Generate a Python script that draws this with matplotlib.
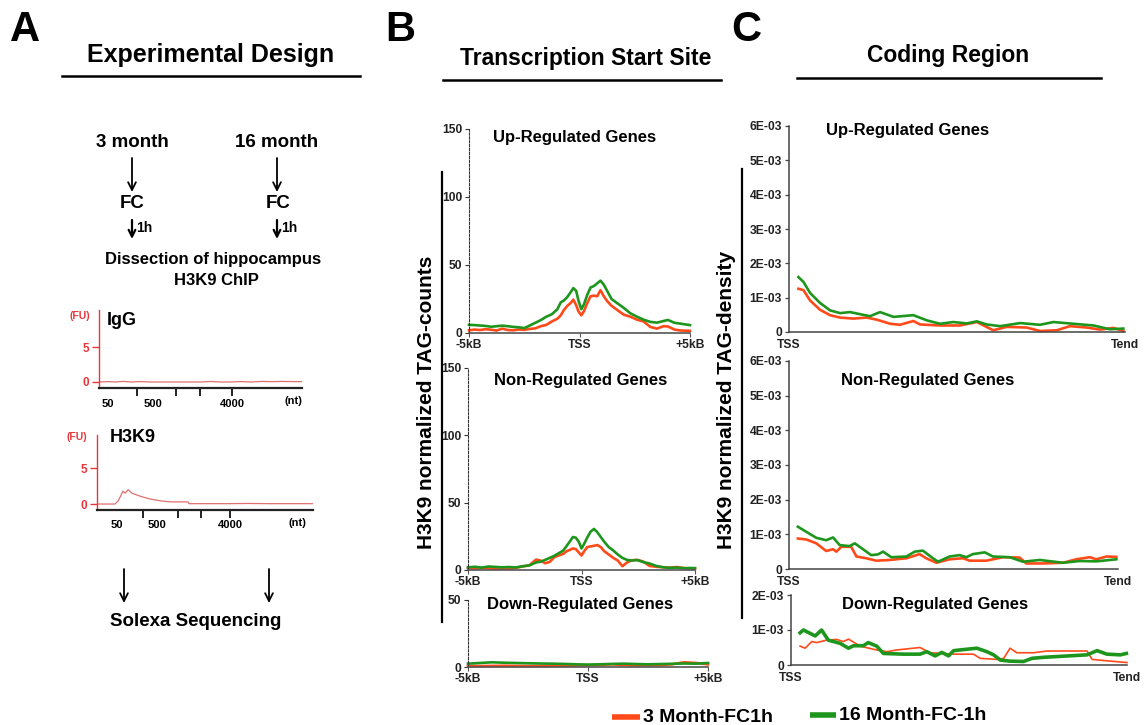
import numpy as np
import matplotlib
matplotlib.use('Agg')
import matplotlib.pyplot as plt

plt.rcParams['font.family'] = ['Liberation Sans', 'DejaVu Sans']
plt.rcParams['font.weight'] = 'bold'

# ---------------- data ----------------
# Panel A electropherograms (relative migration 0-100, FU)
igg_x = [0, 5, 8, 12, 16, 20, 25, 30, 40, 50, 55, 60, 65, 70, 75, 80, 85, 90, 95, 100]
igg_fu = [0.0, 0.05, 0.0, 0.08, 0.0, 0.06, 0.0, 0.0, 0.0, 0.0, 0.07, 0.0, 0.0, 0.06, 0.0, 0.08, 0.05, 0.08, 0.06, 0.05]
h3k9_x = [0, 8.3, 9.7, 11.1, 12.0, 13.0, 14.4, 16.2, 19.9, 24.5, 29.2, 33.8, 42.1, 42.6, 60, 70, 80, 100]
h3k9_fu = [0.0, 0.0, 0.4, 1.2, 1.8, 1.5, 2.0, 1.5, 1.1, 0.7, 0.45, 0.3, 0.3, 0.05, 0.05, 0.08, 0.05, 0.05]
nt_labels = ['50', '500', '4000']

# Panel B: TSS profiles (kb from TSS, TAG-counts)
up_tss_x = [-5.0, -4.75, -4.5, -4.25, -4.0, -3.75, -3.5, -3.25, -3.0, -2.75, -2.5, -2.25, -2.0, -1.75,
            -1.5, -1.25, -1.0, -0.85, -0.7, -0.55, -0.4, -0.28, -0.15, -0.05, 0.08, 0.2, 0.35, 0.5,
            0.65, 0.8, 0.95, 1.1, 1.25, 1.45, 1.7, 2.0, 2.3, 2.6, 2.9, 3.2, 3.5, 3.8, 4.0, 4.3, 4.6, 5.0]
up_tss_3m = [2.0, 2.5, 2.2, 2.8, 2.4, 1.8, 3.2, 2.2, 2.0, 2.6, 2.3, 3.0, 3.4, 5.0,
             6.0, 8.5, 10.5, 13.0, 17.0, 20.0, 22.0, 24.5, 20.5, 16.0, 13.0, 16.0, 22.0, 27.0,
             27.5, 27.0, 31.5, 27.0, 23.5, 20.0, 17.0, 13.5, 12.0, 9.8, 8.5, 4.5, 3.2, 5.0, 4.8, 2.5, 1.8, 1.6]
up_tss_16m = [6.0, 5.8, 5.5, 5.2, 4.6, 5.0, 5.4, 5.0, 4.5, 4.2, 3.6, 5.5, 7.5, 9.5,
              12.0, 13.8, 17.5, 22.5, 24.0, 26.5, 30.0, 33.0, 31.0, 24.0, 17.5, 21.0, 28.0, 33.5,
              34.5, 36.5, 38.5, 35.5, 31.0, 25.0, 22.0, 18.5, 14.5, 12.0, 9.8, 8.2, 7.6, 8.8, 9.6, 7.5, 6.8, 5.8]

non_tss_x = [-5.0, -4.7, -4.4, -4.1, -3.8, -3.5, -3.2, -2.9, -2.6, -2.3, -2.0, -1.8, -1.6, -1.4, -1.2,
             -1.0, -0.8, -0.65, -0.5, -0.38, -0.25, -0.12, 0.0, 0.12, 0.25, 0.4, 0.55, 0.7, 0.85, 1.0,
             1.2, 1.4, 1.6, 1.8, 2.0, 2.2, 2.45, 2.7, 3.0, 3.3, 3.6, 3.9, 4.2, 4.5, 4.8, 5.0]
non_tss_3m = [1.3, 1.0, 1.5, 1.2, 0.9, 1.1, 1.0, 1.6, 2.6, 3.5, 7.7, 7.0, 5.0, 6.0, 9.5,
              10.8, 12.0, 14.0, 15.0, 16.0, 15.5, 13.0, 10.8, 14.0, 17.0, 17.5, 18.0, 18.5, 17.0, 14.0,
              11.5, 9.0, 7.0, 2.8, 5.5, 7.2, 7.5, 6.4, 3.0, 2.4, 2.0, 1.8, 2.2, 1.5, 1.0, 1.0]
non_tss_16m = [2.0, 2.4, 1.8, 2.6, 2.3, 2.0, 2.2, 1.9, 2.8, 3.4, 5.6, 6.2, 7.5, 9.0, 10.5,
               12.5, 14.5, 18.0, 21.5, 24.5, 24.0, 21.0, 16.0, 19.5, 24.0, 28.5, 30.5, 28.0, 24.5, 21.0,
               17.0, 14.5, 11.5, 9.0, 7.5, 7.0, 7.4, 6.0, 4.8, 3.0, 2.0, 1.6, 1.8, 1.3, 1.5, 1.4]

down_tss_x = [-5.0, -4.5, -4.0, -3.5, -3.0, -2.5, -2.0, -1.5, -1.0, -0.5, 0.0, 0.5, 1.0, 1.5, 2.0,
              2.5, 3.0, 3.5, 4.0, 4.5, 5.0]
down_tss_3m = [0.8, 0.7, 0.8, 0.9, 0.8, 0.7, 0.8, 0.9, 1.0, 1.2, 1.4, 1.6, 2.0, 1.5, 1.2,
               1.3, 1.5, 2.0, 3.5, 3.0, 2.0]
down_tss_16m = [2.5, 3.0, 3.5, 3.2, 3.0, 2.8, 2.6, 2.5, 2.3, 2.0, 1.8, 2.0, 2.3, 2.5, 2.2,
                2.0, 2.2, 2.4, 2.6, 2.5, 3.0]

# Panel C: coding region profiles (% of gene body TSS->Tend, TAG-density in 1E-03 units)
up_cod_3m_x = [2.8, 4.3, 6.25, 9.2, 12.2, 15.2, 19.1, 23.1, 26.1, 30.1, 33.0, 37.0, 39.0, 44.9, 50.9,
               55.9, 60.8, 64.8, 70.7, 74.7, 79.7, 83.6, 88.6, 92.6, 96.5, 99.5]
up_cod_3m = [1.26, 1.22, 0.92, 0.65, 0.49, 0.42, 0.39, 0.42, 0.36, 0.24, 0.21, 0.32, 0.22, 0.19, 0.19,
             0.29, 0.05, 0.15, 0.13, 0.03, 0.05, 0.17, 0.13, 0.07, 0.12, 0.03]
up_cod_16m_x = [2.8, 4.3, 6.25, 9.2, 12.2, 15.2, 18.2, 21.1, 24.1, 27.1, 31.1, 37.0, 41.0, 44.9, 48.9,
                52.9, 55.9, 58.8, 62.8, 68.8, 74.7, 78.7, 84.6, 90.6, 95.5, 99.5]
up_cod_16m = [1.60, 1.46, 1.14, 0.85, 0.63, 0.55, 0.58, 0.52, 0.46, 0.58, 0.44, 0.49, 0.34, 0.24, 0.29,
              0.25, 0.31, 0.22, 0.17, 0.26, 0.21, 0.29, 0.24, 0.19, 0.08, 0.10]

non_cod_3m_x = [2.7, 5.3, 8.3, 11.3, 13.4, 14.4, 15.9, 18.9, 20.5, 23.5, 26.5, 30.6, 35.7, 39.7, 41.7,
                44.8, 48.8, 52.9, 54.9, 60.0, 65.0, 70.1, 72.1, 77.2, 83.3, 87.3, 91.4, 93.4, 96.5, 99.5]
non_cod_3m = [0.88, 0.85, 0.74, 0.52, 0.57, 0.50, 0.64, 0.64, 0.36, 0.31, 0.24, 0.26, 0.31, 0.43, 0.31,
              0.18, 0.28, 0.31, 0.24, 0.24, 0.34, 0.33, 0.16, 0.16, 0.18, 0.28, 0.34, 0.28, 0.36, 0.35]
non_cod_16m_x = [2.7, 5.3, 8.3, 11.3, 13.4, 15.4, 18.4, 20.0, 22.5, 25.0, 27.0, 28.6, 31.1, 35.7, 38.2,
                 40.7, 43.3, 45.3, 48.8, 51.9, 53.9, 55.9, 59.5, 62.0, 67.1, 71.1, 76.2, 83.3, 88.3, 93.4, 99.5]
non_cod_16m = [1.22, 1.07, 0.90, 0.83, 0.91, 0.69, 0.66, 0.74, 0.57, 0.40, 0.42, 0.50, 0.34, 0.36, 0.50,
               0.53, 0.34, 0.21, 0.36, 0.40, 0.34, 0.43, 0.48, 0.36, 0.34, 0.21, 0.26, 0.18, 0.23, 0.22, 0.28]

down_cod_3m_x = [2.7, 4.2, 6.2, 7.6, 10.6, 13.6, 15.6, 17.1, 20.6, 24.5, 28.5, 31.5, 38.4, 41.4, 48.4,
                 54.3, 56.3, 61.3, 63.3, 65.2, 67.2, 72.2, 76.2, 88.1, 89.6, 94.0, 100.0]
down_cod_3m = [0.54, 0.48, 0.67, 0.64, 0.71, 0.73, 0.67, 0.74, 0.54, 0.45, 0.38, 0.43, 0.50, 0.35, 0.31,
               0.31, 0.19, 0.16, 0.19, 0.48, 0.35, 0.35, 0.40, 0.40, 0.16, 0.12, 0.07]
down_cod_16m_x = [2.7, 3.7, 7.2, 9.1, 11.1, 14.6, 17.1, 18.6, 21.5, 23.0, 25.5, 27.5, 33.5, 38.4, 40.4,
                  42.9, 44.9, 46.9, 48.4, 52.3, 55.3, 58.3, 60.3, 62.3, 65.2, 69.2, 71.7, 75.2, 88.1,
                  91.1, 94.0, 98.0, 99.8]
down_cod_16m = [0.92, 1.00, 0.83, 1.00, 0.71, 0.62, 0.48, 0.55, 0.55, 0.64, 0.54, 0.33, 0.31, 0.31, 0.38,
                0.26, 0.36, 0.26, 0.41, 0.45, 0.48, 0.38, 0.29, 0.14, 0.11, 0.10, 0.19, 0.22, 0.29,
                0.41, 0.31, 0.29, 0.33]

series_labels = ['3 Month-FC1h', '16 Month-FC-1h']
tss_xticklabels = ['-5kB', 'TSS', '+5kB']
cod_xticklabels = ['TSS', 'Tend']

# ---------------- figure ----------------
W, H = 1144, 725
ORANGE = '#ff4a1a'
GREEN = '#1e961e'
RED = '#e8363a'

fig = plt.figure(figsize=(W / 100, H / 100), dpi=100)


def px_axes(x0, y0, x1, y1):
    ax = fig.add_axes([x0 / W, 1 - y1 / H, (x1 - x0) / W, (y1 - y0) / H])
    ax.patch.set_alpha(0)
    return ax


ov = fig.add_axes([0, 0, 1, 1])
ov.set_xlim(0, W)
ov.set_ylim(H, 0)
ov.axis('off')


def T(x, y, s, size, ha='center', va='center', **kw):
    ov.text(x, y, s, fontsize=size, ha=ha, va=va, fontweight='bold', **kw)


def arrow(x, y0, y1, lw=1.3, ms=14):
    ov.annotate('', xy=(x, y1), xytext=(x, y0),
                arrowprops=dict(arrowstyle='->', lw=lw, color='black', mutation_scale=ms,
                                shrinkA=0, shrinkB=0))


# panel letters & headers
T(25, 30, 'A', 30)
T(400, 30, 'B', 30)
T(746, 30, 'C', 30)
T(211, 55, 'Experimental Design', 18)
ov.plot([62, 360], [76, 76], color='black', lw=1.8)
T(586, 58, 'Transcription Start Site', 16.5)
ov.plot([443, 721], [80, 80], color='black', lw=1.8)
T(948, 55, 'Coding Region', 16.5)
ov.plot([797, 1101], [78, 78], color='black', lw=1.8)

# experimental design flow
T(132, 142, '3 month', 13.5)
T(277, 142, '16 month', 13.5)
arrow(132, 158, 192)
arrow(277, 158, 192)
T(132, 203, 'FC', 13.5)
T(278, 203, 'FC', 13.5)
arrow(132, 220, 239, lw=1.6, ms=12)
arrow(277, 220, 239, lw=1.6, ms=12)
T(136, 228, '1h', 10, ha='left')
T(281, 228, '1h', 10, ha='left')
T(213, 259, 'Dissection of hippocampus', 12)
T(216, 280, 'H3K9 ChIP', 12)
arrow(124, 569, 603)
arrow(269, 569, 603)
T(196, 621, 'Solexa Sequencing', 13.5)


def electro(x0, y0, x1, y1, ymin, ymax, xs, ys, lab_pos, mark_pos, name, fu_xy, name_xy, nt_x):
    ax = px_axes(x0, y0, x1, y1)
    ax.plot(xs, ys, color='#e07070', lw=0.9)
    ax.set_xlim(0, 100)
    ax.set_ylim(ymin, ymax)
    ax.spines['top'].set_visible(False)
    ax.spines['right'].set_visible(False)
    ax.spines['left'].set_color(RED)
    ax.spines['left'].set_linewidth(1.0)
    ax.spines['bottom'].set_color('#222')
    ax.spines['bottom'].set_linewidth(1.6)
    ax.set_yticks([0, 5])
    ax.set_yticklabels(['0', '5'], color=RED, fontsize=8.5, fontweight='bold')
    ax.tick_params(axis='y', colors=RED, length=5, width=1, pad=2)
    ax.set_xticks(mark_pos)
    ax.set_xticklabels([''] * len(mark_pos))
    ax.tick_params(axis='x', length=6, width=1.4, color='#222')
    for p, s in zip(lab_pos, nt_labels):
        ax.text(p, -0.2, s, transform=ax.get_xaxis_transform(), ha='center', va='center',
                fontsize=8, fontweight='bold')
    T(fu_xy[0], fu_xy[1], '(FU)', 7.5, color=RED)
    T(name_xy[0], name_xy[1], name, 13, ha='left')
    T(nt_x, y1 + 13, '(nt)', 8)
    return ax


electro(99, 310, 302, 388, -0.86, 10.3, igg_x, igg_fu,
        [4.4, 26.6, 65.5], [18.7, 37.9, 49.8, 65.5], 'IgG', (80, 316), (107, 320), 293)
electro(97, 435, 313, 510, -0.83, 9.6, h3k9_x, h3k9_fu,
        [9.3, 27.8, 61.6], [21.3, 37.5, 48.1, 61.6], 'H3K9', (77, 437), (110, 437), 297)


def tss_axes(x0, y0, x1, y1, ymax, yticks, xs, y3, y16, title, txy):
    ax = px_axes(x0, y0, x1, y1)
    ax.plot(xs, y3, color=ORANGE, lw=1.9, clip_on=False)
    ax.plot(xs, y16, color=GREEN, lw=1.9, clip_on=False)
    ax.set_xlim(-5, 5)
    ax.set_ylim(0, ymax)
    ax.spines['top'].set_visible(False)
    ax.spines['right'].set_visible(False)
    ax.spines['left'].set_linestyle((0, (2, 1.5)))
    ax.spines['left'].set_linewidth(0.8)
    ax.spines['left'].set_color('#333')
    ax.spines['bottom'].set_color('#555')
    ax.spines['bottom'].set_linewidth(1.2)
    ax.set_yticks(yticks)
    ax.set_yticklabels([str(t) for t in yticks], fontsize=8.7, fontweight='bold', color='#222')
    ax.set_xticks([-5, 0, 5])
    ax.set_xticklabels(tss_xticklabels, fontsize=8.7, fontweight='bold', color='#222')
    ax.tick_params(axis='y', length=3, width=0.8, pad=2, color='#333')
    ax.tick_params(axis='x', length=3, width=0.8, pad=1, color='#555')
    T(txy[0], txy[1], title, 12)
    return ax


tss_axes(469, 129, 690, 333, 150, [0, 50, 100, 150], up_tss_x, up_tss_3m, up_tss_16m,
         'Up-Regulated Genes', (575, 137))
tss_axes(468, 368, 695, 570, 150, [0, 50, 100, 150], non_tss_x, non_tss_3m, non_tss_16m,
         'Non-Regulated Genes', (581, 380))
tss_axes(468, 600, 708, 667, 50, [0, 50], down_tss_x, down_tss_3m, down_tss_16m,
         'Down-Regulated Genes', (580, 605))

T(427, 402, 'H3K9 normalized TAG-counts', 15, rotation=90)
ov.plot([441.5, 441.5], [172, 622], color='black', lw=1.6)


def cod_axes(x0, y0, x1, y1, ymax, xs3, y3, xs16, y16, title, txy, lw3=1.9, lw16=1.9):
    ax = px_axes(x0, y0, x1, y1)
    ax.plot(xs3, np.array(y3) * 1e-3, color=ORANGE, lw=lw3, clip_on=False)
    ax.plot(xs16, np.array(y16) * 1e-3, color=GREEN, lw=lw16, clip_on=False)
    ax.set_xlim(0, 100)
    ax.set_ylim(0, ymax * 1e-3)
    ax.spines['top'].set_visible(False)
    ax.spines['right'].set_visible(False)
    for s in ['left', 'bottom']:
        ax.spines[s].set_color('#444')
        ax.spines[s].set_linewidth(1.1)
    ticks = list(range(0, ymax + 1))
    ax.set_yticks([t * 1e-3 for t in ticks])
    ax.set_yticklabels(['0'] + ['%dE-03' % t for t in ticks[1:]], fontsize=8.7,
                       fontweight='bold', color='#222')
    ax.set_xticks([0, 100])
    ax.set_xticklabels(cod_xticklabels, fontsize=8.7, fontweight='bold', color='#222')
    ax.tick_params(axis='y', length=3, width=0.9, pad=2, color='#444')
    ax.tick_params(axis='x', length=0, pad=5)
    T(txy[0], txy[1], title, 12)
    return ax


cod_axes(789, 126, 1125, 332, 6, up_cod_3m_x, up_cod_3m, up_cod_16m_x, up_cod_16m,
         'Up-Regulated Genes', (908, 130))
cod_axes(789, 361, 1118, 569, 6, non_cod_3m_x, non_cod_3m, non_cod_16m_x, non_cod_16m,
         'Non-Regulated Genes', (928, 380))
cod_axes(791, 595, 1127, 665, 2, down_cod_3m_x, down_cod_3m, down_cod_16m_x, down_cod_16m,
         'Down-Regulated Genes', (935, 604), lw3=1.2, lw16=2.6)

T(727, 400, 'H3K9 normalized TAG-density', 15, rotation=90)
ov.plot([742, 742], [169, 618], color='black', lw=1.6)

# legend
ov.plot([612, 640], [717, 717], color=ORANGE, lw=4, solid_capstyle='butt')
T(643, 717, series_labels[0], 14, ha='left')
ov.plot([810, 836], [715, 715], color=GREEN, lw=4, solid_capstyle='butt')
T(839, 715, series_labels[1], 14, ha='left')

fig.savefig('out.png', dpi=100)
